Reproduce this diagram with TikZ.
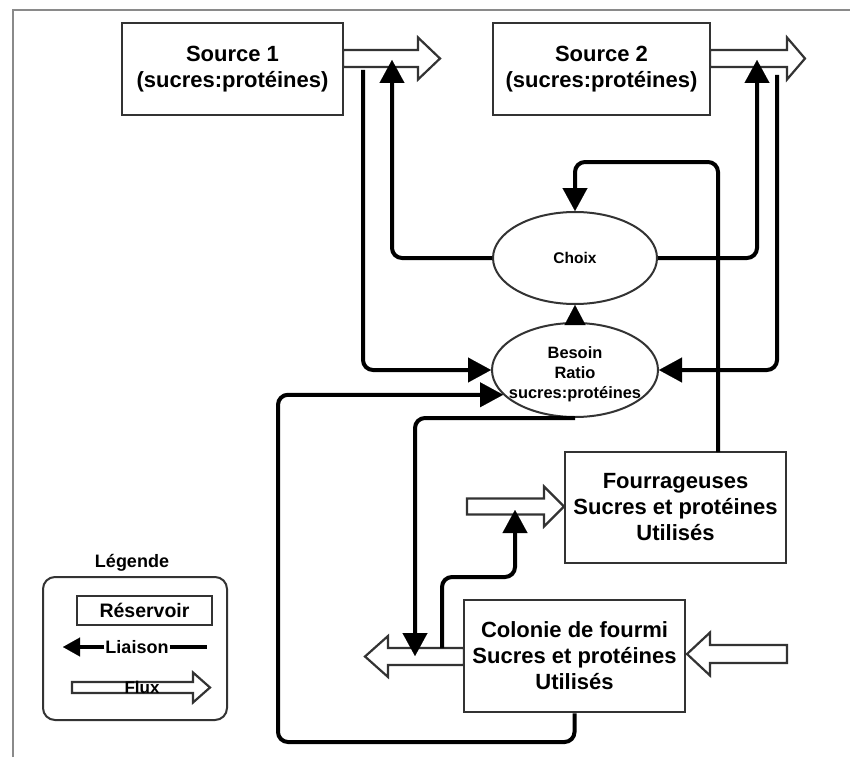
\documentclass[tikz,border=0pt]{standalone}
\usepackage{fontspec}
\setmainfont{Liberation Sans}
\usetikzlibrary{arrows.meta,shapes.geometric,calc}

\definecolor{boxgray}{HTML}{333333}
\definecolor{framegray}{HTML}{8A8A8A}

\tikzset{
  box/.style={draw=boxgray, line width=2.5pt, fill=white, minimum width=221pt,
    minimum height=92pt, inner sep=0pt, align=center,
    font=\bfseries\fontsize{22}{26}\selectfont},
  oval/.style={ellipse, draw=boxgray, line width=2pt, fill=white, inner sep=0pt},
  lnk/.style={line width=4pt, rounded corners=10pt, draw=black},
  hd/.style={-{Triangle[length=23pt,width=25pt,line width=0.1pt]}},
  smallhd/.style={-{Triangle[length=20pt,width=21pt,line width=0.1pt]}},
  flux/.style={draw=boxgray, line width=2.2pt, fill=white, line join=miter},
  edgeline/.style={draw=framegray, line width=2pt},
  legtext/.style={font=\bfseries\fontsize{18}{20}\selectfont, inner sep=1pt},
}

% hollow block arrow: tail x, head base x, tip x, centre y, half shaft, half head
\newcommand{\fluxarrow}[6]{%
  \path[flux] (#1,#4-#5) -- (#2,#4-#5) -- (#2,#4-#6) -- (#3,#4)
    -- (#2,#4+#6) -- (#2,#4+#5) -- (#1,#4+#5) -- cycle;}

\begin{document}
\begin{tikzpicture}[x=1pt, y=-1pt]
\useasboundingbox (0,0) rectangle (850,757);
\fill[white] (0,0) rectangle (850,757);

% page frame
\draw[edgeline] (13,757) -- (13,10) -- (850,10);

% flows
\fluxarrow{343}{418}{440}{58.5}{8.5}{21}
\fluxarrow{710}{787}{805}{58.5}{8.5}{21}
\fluxarrow{467}{544}{564}{506.5}{8}{20}
\fluxarrow{464}{388}{365}{656.5}{8.5}{20.5}
\fluxarrow{787}{710}{687}{654}{9}{21.5}

% reservoirs
\node[box] (S1) at (232.5,69) {Source 1\\(sucres:protéines)};
\node[box, minimum width=217pt] (S2) at (601.5,69) {Source 2\\(sucres:protéines)};
\node[box, minimum height=111pt] (F) at (675.5,507.5) {Fourrageuses\\Sucres et protéines\\Utilisés};
\node[box, minimum height=112pt] (K) at (574.5,656) {Colonie de fourmi\\Sucres et protéines\\Utilisés};

% decision ovals
\node[oval, minimum width=164pt, minimum height=92pt] (C) at (575,258) {};
\node[font=\bfseries\fontsize{15.5}{19}\selectfont] (Ct) at (C) {Choix};
\node[oval, minimum width=166pt, minimum height=94pt] (B) at (575,370) {};
\node[align=center, font=\bfseries\fontsize{16.4}{20}\selectfont] (Bt) at (575,374)
  {Besoin\\Ratio\\sucres:protéines};

% link end points on the flows
\coordinate (s1a) at (363,70);
\coordinate (s1b) at (392,60);
\coordinate (s2b) at (757,60);
\coordinate (s2a) at (777,75);
\coordinate (f1) at (718,452);
\coordinate (top) at (718,162);
\coordinate (cl) at (415,656);
\coordinate (c8) at (442,648);
\coordinate (k8) at (515,577);
\coordinate (ft) at (515,510);
\coordinate (lowleft) at (278,742);

% links
\draw[lnk, hd] (s1a) |- (B.west);
\draw[lnk, hd] (C.west) -| (s1b);
\draw[lnk, hd] (C.east) -| (s2b);
\draw[lnk, hd] (s2a) |- (B.east);
\draw[lnk, hd] (f1) -- (top) -| (C.north);
\draw[lnk, smallhd] (B.north) -- (C.south);
\draw[lnk, hd] (B.south) -| (cl);
\draw[lnk, hd] (c8) |- (k8) -- (ft);
\draw[lnk, hd] (K.south) |- (lowleft) |- (B.199);

% legend
\node[legtext] (lg) at (132,563) {Légende};
\draw[draw=boxgray, line width=2pt, rounded corners=12pt] (43,577) rectangle (227,720);
\node[draw=boxgray, line width=2pt, minimum width=135pt, minimum height=29pt,
  inner sep=0pt, font=\bfseries\fontsize{19.5}{21}\selectfont] (lr) at (144.5,610.5) {Réservoir};
\node[legtext] (ll) at (137,647) {Liaison};
\coordinate (lltip) at (63,647);
\coordinate (llend) at (207,647);
\draw[line width=4pt, -{Triangle[length=17pt,width=19pt,line width=0.1pt]}] (ll.west) -- (lltip);
\draw[line width=4pt] (ll.east) -- (llend);
\fluxarrow{72}{193}{210}{687.5}{5.5}{15}
\node[legtext, font=\bfseries\fontsize{17}{19}\selectfont] (lf) at (142,687) {Flux};
\end{tikzpicture}
\end{document}
